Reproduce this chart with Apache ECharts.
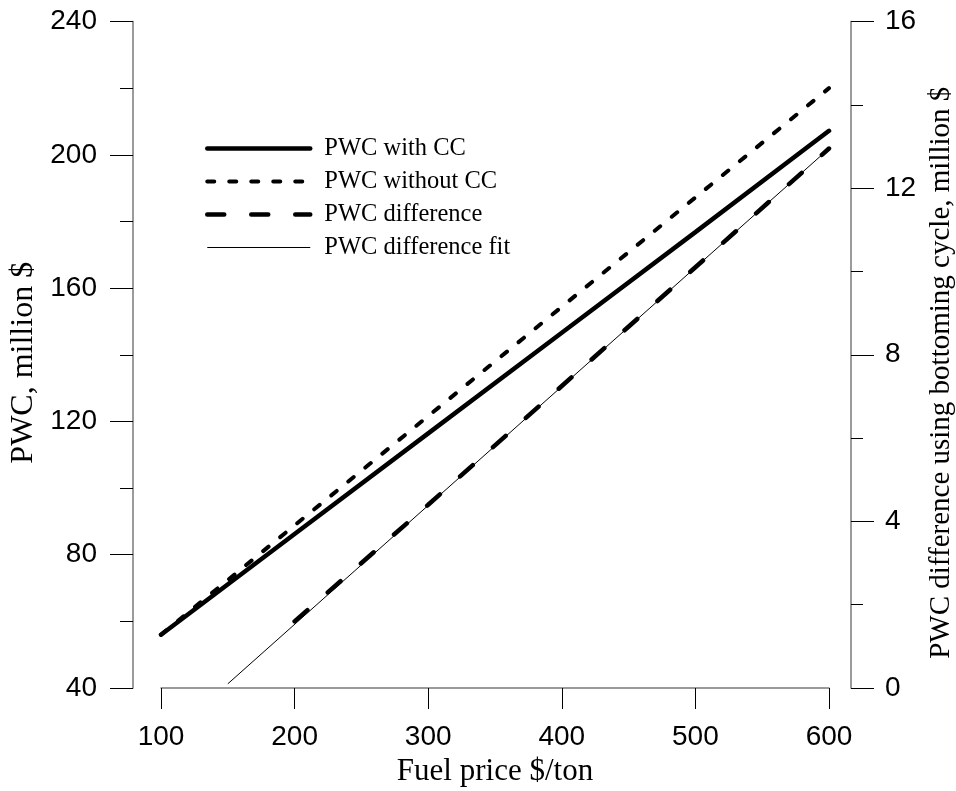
<!DOCTYPE html>
<html>
<head>
<meta charset="utf-8">
<script src="https://cdn.jsdelivr.net/npm/echarts@6/dist/echarts.min.js"></script>
<style>
html,body{margin:0;padding:0;background:#fff;}
#chart{width:956px;height:791px;}
</style>
</head>
<body>
<div id="chart"></div>
<script>
// ---- data ----
const fuelPrice = [100, 200, 300, 400, 500, 600];
const pwcWithCC = [56, 86.2, 116.4, 146.6, 176.8, 207.2];
const pwcWithoutCC = [56, 88.8, 121.6, 154.4, 187.2, 220];
const diffPrice = [200, 300, 400, 500, 600];
const pwcDifference = [1.6, 4.4, 7.25, 10.1, 12.95];
const fitPrice = [150, 600];
const pwcDifferenceFit = [0.1, 12.95];
const seriesNames = ['PWC with CC', 'PWC without CC', 'PWC difference', 'PWC difference fit'];
const xTitle = 'Fuel price $/ton';
const yLeftTitle = 'PWC, million $';
const yRightTitle = 'PWC difference using bottoming cycle, million $';

const pairs = (xs, ys) => xs.map((x, i) => [x, ys[i]]);

const chart = echarts.init(document.getElementById('chart'), null, {renderer: 'canvas'});
const sans = '"Liberation Sans", Arial, sans-serif';
const serif = '"Liberation Serif", "Times New Roman", serif';
const axisLineStyle = {color: '#7a7a7a', width: 1.5};

const lineStyles = [
  {color: '#000', width: 4.5, type: 'solid', cap: 'round'},
  {color: '#000', width: 4, type: [7, 15], cap: 'round'},
  {color: '#000', width: 4.5, type: [17, 27], cap: 'round'},
  {color: '#000', width: 1, type: 'solid', cap: 'butt'}
];

chart.setOption({
  backgroundColor: '#fff',
  animation: false,
  grid: {left: 161, right: 127, top: 21.5, bottom: 103, outerBoundsMode: 'none', containLabel: false},
  legend: {
    orient: 'vertical',
    left: 200,
    top: 131,
    itemWidth: 103,
    itemHeight: 25,
    itemGap: 8,
    data: seriesNames.map((n, i) => ({name: n, lineStyle: lineStyles[i]})),
    itemStyle: {color: 'rgba(0,0,0,0)', borderColor: 'rgba(0,0,0,0)', borderWidth: 0},
    textStyle: {fontFamily: serif, fontSize: 24.5, color: '#000', padding: [0, 0, 0, 9]},
    selectedMode: false
  },
  xAxis: {
    type: 'value',
    min: 100, max: 600, interval: 100,
    position: 'bottom',
    name: xTitle,
    nameLocation: 'middle',
    nameGap: 68,
    nameTextStyle: {fontFamily: serif, fontSize: 31, color: '#000'},
    axisLine: {show: true, onZero: false, lineStyle: axisLineStyle},
    axisTick: {show: true, length: 21, lineStyle: {color: '#000', width: 1}},
    axisLabel: {fontFamily: sans, fontSize: 28, color: '#000', margin: 35},
    splitLine: {show: false}
  },
  yAxis: [
    {
      type: 'value',
      min: 40, max: 240, interval: 40,
      position: 'left',
      offset: 28,
      name: yLeftTitle,
      nameLocation: 'middle',
      nameGap: 90,
      nameTextStyle: {fontFamily: serif, fontSize: 32, color: '#000', padding: [0, 16, 0, 0]},
      axisLine: {show: true, lineStyle: axisLineStyle},
      axisTick: {show: true, length: 23, lineStyle: {color: '#000', width: 1}},
      minorTick: {show: true, splitNumber: 2, length: 13, lineStyle: {color: '#000', width: 1}},
      axisLabel: {fontFamily: sans, fontSize: 28, color: '#000', margin: 36},
      splitLine: {show: false},
      minorSplitLine: {show: false}
    },
    {
      type: 'value',
      min: 0, max: 16, interval: 4,
      position: 'right',
      offset: 22,
      name: yRightTitle,
      nameLocation: 'middle',
      nameGap: 71,
      nameTextStyle: {fontFamily: serif, fontSize: 29, color: '#000', padding: [0, 36, 0, 0]},
      axisLine: {show: true, lineStyle: axisLineStyle},
      axisTick: {show: true, length: 23, lineStyle: {color: '#000', width: 1}},
      minorTick: {show: true, splitNumber: 2, length: 12, lineStyle: {color: '#000', width: 1}},
      axisLabel: {fontFamily: sans, fontSize: 28, color: '#000', margin: 34},
      splitLine: {show: false},
      minorSplitLine: {show: false}
    }
  ],
  series: [
    {
      name: seriesNames[0], type: 'line', yAxisIndex: 0,
      data: pairs(fuelPrice, pwcWithCC),
      symbol: 'none', z: 3,
      lineStyle: lineStyles[0]
    },
    {
      name: seriesNames[1], type: 'line', yAxisIndex: 0,
      data: pairs(fuelPrice, pwcWithoutCC),
      symbol: 'none', z: 3,
      lineStyle: lineStyles[1]
    },
    {
      name: seriesNames[3], type: 'line', yAxisIndex: 1,
      data: pairs(fitPrice, pwcDifferenceFit),
      symbol: 'none', z: 2,
      lineStyle: lineStyles[3]
    },
    {
      name: seriesNames[2], type: 'line', yAxisIndex: 1,
      data: pairs(diffPrice, pwcDifference),
      symbol: 'none', z: 3,
      lineStyle: lineStyles[2]
    }
  ]
});
</script>
</body>
</html>
